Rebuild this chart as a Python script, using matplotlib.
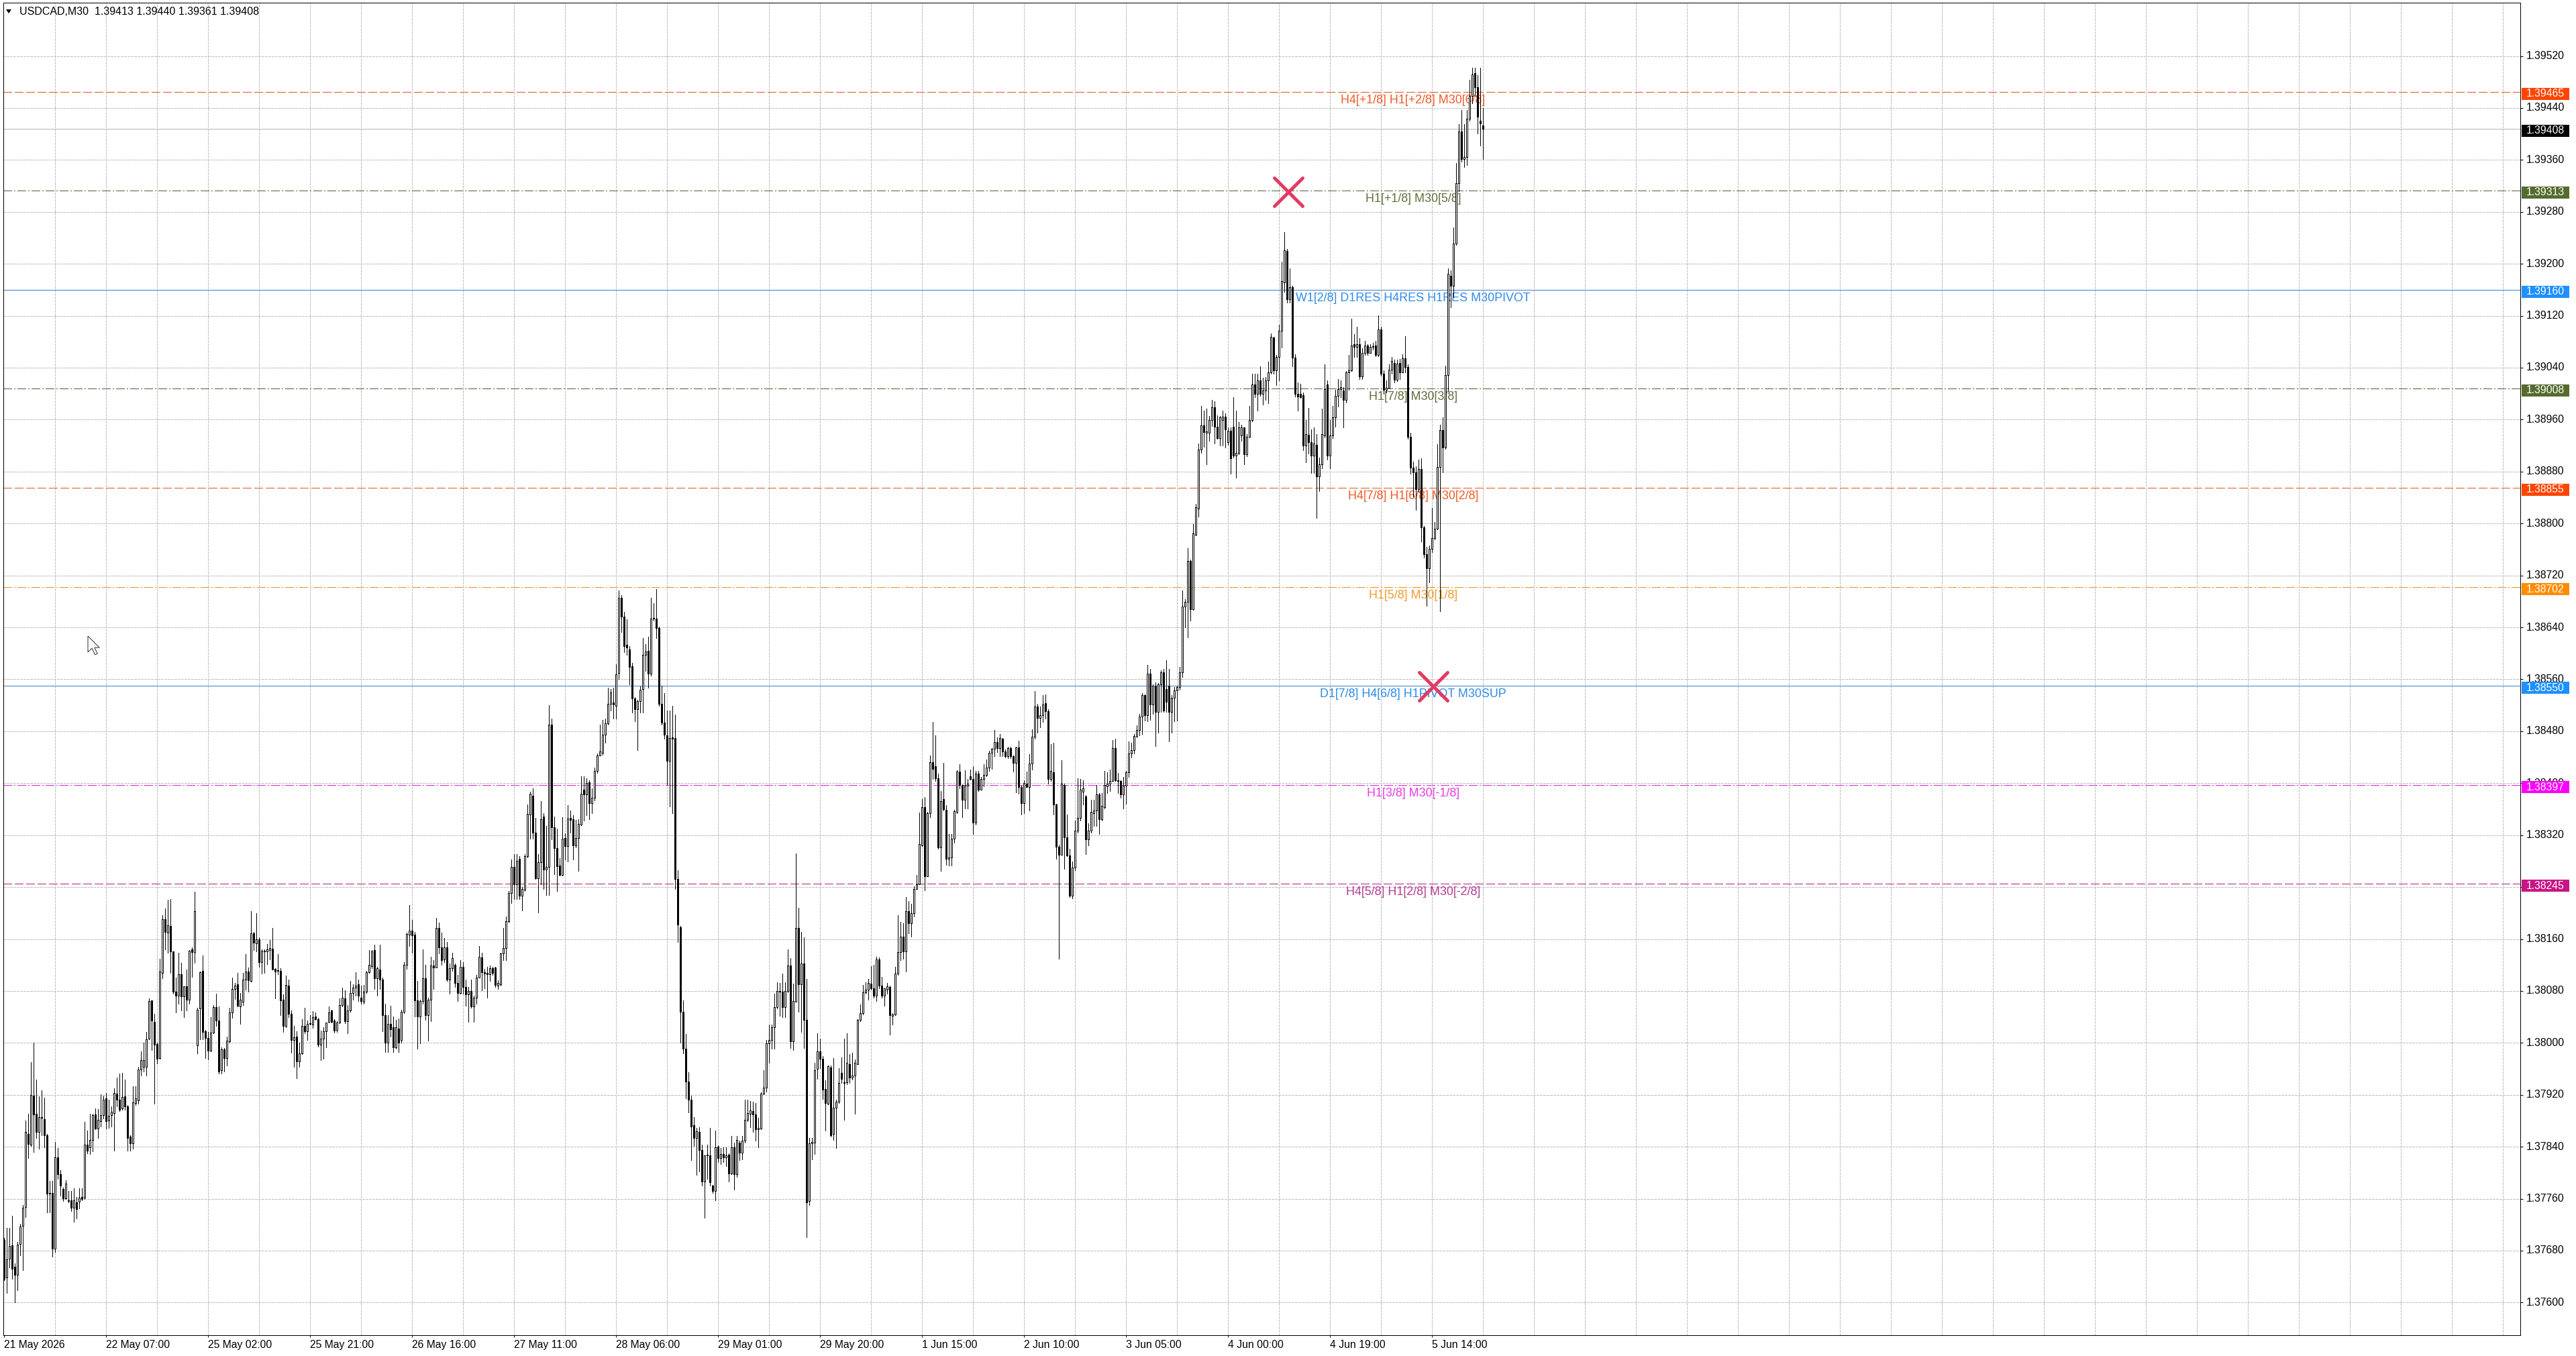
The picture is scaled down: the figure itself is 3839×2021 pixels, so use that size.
import matplotlib
matplotlib.use("Agg")
import matplotlib.pyplot as plt
import matplotlib.transforms as mtransforms
from matplotlib.patches import Rectangle, Polygon
from matplotlib.markers import MarkerStyle
import numpy as np

plt.rcParams['font.family'] = ['Liberation Sans', 'DejaVu Sans']

''' USDCAD M30 candles with Murrey-math style level lines,
read off a MetaTrader screenshot (21 May 2026 12:00 -> 5 Jun 2026 23:30) '''

symbol_text = "USDCAD,M30  1.39413 1.39440 1.39361 1.39408"

# prices are kept as points (0.00001) above 1.37600
BASE = 1.37600
POINT = 0.00001

open_pts = [
    97, 39, 68, 88, 55, 43, 90, 118, 147, 260,
    243, 319, 291, 263, 286, 283, 258, 168, 169, 83,
    224, 198, 175, 161, 158, 158, 146, 154, 155, 163,
    162, 243, 239, 250, 290, 268, 279, 289, 315, 280,
    289, 292, 322, 312, 299, 318, 302, 256, 245, 307,
    311, 359, 363, 363, 407, 465, 432, 398, 377, 508,
    590, 570, 580, 541, 479, 473, 506, 472, 487, 466,
    544, 540, 396, 453, 511, 418, 408, 388, 416, 455,
    434, 358, 390, 377, 402, 447, 483, 490, 456, 463,
    497, 510, 495, 569, 553, 559, 524, 542, 541, 543,
    545, 514, 512, 511, 466, 426, 488, 445, 405, 410,
    371, 384, 426, 418, 429, 428, 441, 437, 397, 407,
    418, 432, 450, 434, 420, 431, 458, 469, 433, 450,
    477, 485, 490, 470, 463, 479, 509, 518, 543, 500,
    513, 498, 443, 400, 429, 424, 393, 422, 405, 448,
    520, 567, 573, 567, 465, 441, 464, 500, 443, 467,
    519, 516, 577, 547, 528, 547, 498, 515, 520, 492,
    477, 517, 486, 475, 480, 456, 470, 501, 532, 509,
    508, 506, 515, 516, 488, 490, 538, 546, 587, 631,
    671, 644, 683, 627, 636, 688, 752, 781, 724, 654,
    678, 749, 667, 671, 890, 732, 700, 673, 659, 716,
    703, 747, 745, 704, 716, 736, 790, 783, 801, 769,
    778, 819, 843, 847, 875, 892, 922, 924, 919, 970,
    1086, 1057, 1013, 1006, 980, 930, 914, 926, 945, 998,
    1004, 969, 1053, 1053, 1039, 922, 893, 874, 834, 871,
    870, 653, 578, 448, 391, 340, 313, 273, 254, 263,
    235, 186, 227, 227, 180, 172, 240, 223, 229, 224,
    228, 199, 239, 198, 246, 231, 249, 281, 291, 295,
    290, 267, 268, 322, 331, 399, 405, 424, 455, 480,
    479, 455, 480, 519, 402, 463, 577, 490, 522, 436,
    156, 245, 246, 360, 387, 376, 329, 306, 362, 260,
    300, 309, 354, 338, 339, 367, 347, 350, 367, 435,
    446, 478, 482, 491, 484, 473, 529, 488, 473, 482,
    486, 442, 444, 507, 540, 564, 541, 603, 584, 600,
    637, 644, 704, 763, 657, 754, 832, 826, 808, 701,
    775, 759, 683, 686, 715, 756, 818, 797, 774, 796,
    811, 807, 739, 815, 790, 806, 813, 824, 847, 853,
    863, 854, 869, 849, 842, 854, 842, 831, 855, 794,
    769, 799, 794, 830, 872, 918, 901, 905, 923, 911,
    806, 817, 767, 702, 690, 797, 717, 689, 627, 670,
    727, 747, 787, 780, 713, 727, 754, 758, 783, 745,
    763, 795, 799, 803, 854, 804, 803, 783, 796, 817,
    846, 851, 873, 882, 903, 936, 905, 969, 921, 950,
    910, 952, 971, 945, 950, 910, 932, 943, 948, 971,
    1072, 1079, 1142, 1068, 1183, 1223, 1314, 1351, 1340, 1340,
    1359, 1379, 1349, 1331, 1359, 1365, 1325, 1343, 1349, 1305,
    1309, 1336, 1348, 1307, 1334, 1359, 1414, 1400, 1420, 1400,
    1405, 1420, 1433, 1486, 1436, 1456, 1497, 1571, 1620, 1545,
    1564, 1455, 1400, 1400, 1398, 1320, 1337, 1325, 1305, 1321,
    1273, 1291, 1336, 1414, 1305, 1336, 1363, 1397, 1407, 1405,
    1390, 1433, 1436, 1476, 1472, 1476, 1427, 1463, 1474, 1463,
    1472, 1474, 1460, 1499, 1431, 1406, 1409, 1437, 1447, 1421,
    1447, 1433, 1454, 1441, 1334, 1286, 1279, 1253, 1284, 1194,
    1153, 1131, 1161, 1177, 1192, 1287, 1344, 1317, 1429, 1582,
    1566, 1631, 1724, 1804, 1761, 1764, 1823, 1858, 1894, 1872,
    1820, 1813,
]

high_pts = [
    100, 115, 115, 134, 60, 93, 121, 150, 280, 291,
    370, 400, 344, 318, 327, 316, 260, 187, 187, 247,
    238, 204, 177, 189, 172, 172, 176, 163, 176, 176,
    278, 265, 291, 291, 299, 298, 321, 319, 323, 313,
    302, 330, 347, 353, 354, 344, 304, 258, 333, 333,
    363, 387, 400, 417, 469, 465, 445, 400, 530, 597,
    607, 620, 621, 541, 501, 539, 523, 487, 513, 543,
    547, 633, 454, 510, 535, 420, 417, 440, 458, 476,
    456, 393, 392, 410, 454, 501, 492, 508, 477, 508,
    537, 516, 603, 571, 600, 563, 544, 544, 552, 558,
    577, 515, 537, 515, 475, 504, 497, 450, 426, 418,
    400, 437, 454, 434, 443, 449, 447, 439, 419, 424,
    431, 456, 451, 437, 433, 469, 485, 481, 458, 495,
    490, 509, 498, 488, 489, 511, 543, 543, 551, 517,
    551, 501, 460, 443, 457, 441, 435, 438, 451, 524,
    570, 612, 589, 571, 495, 467, 544, 520, 470, 533,
    527, 593, 585, 570, 562, 555, 522, 539, 522, 505,
    527, 524, 498, 486, 498, 473, 505, 549, 539, 514,
    517, 519, 517, 517, 496, 539, 577, 595, 634, 682,
    691, 691, 688, 640, 691, 767, 787, 792, 747, 691,
    772, 754, 734, 920, 899, 749, 730, 685, 748, 723,
    766, 758, 751, 743, 745, 811, 811, 808, 804, 792,
    824, 846, 890, 897, 900, 947, 945, 947, 983, 1097,
    1090, 1064, 1052, 1011, 985, 933, 928, 949, 1023, 1014,
    1026, 1086, 1077, 1099, 1041, 950, 939, 912, 912, 919,
    906, 666, 580, 465, 414, 355, 319, 286, 269, 270,
    243, 227, 243, 269, 181, 265, 242, 238, 239, 239,
    230, 257, 246, 257, 249, 257, 313, 313, 310, 309,
    307, 285, 324, 358, 405, 428, 428, 476, 493, 492,
    507, 493, 544, 531, 491, 692, 608, 571, 563, 499,
    254, 254, 369, 415, 407, 380, 342, 365, 365, 377,
    312, 361, 378, 407, 415, 383, 385, 375, 437, 459,
    489, 493, 499, 518, 520, 533, 532, 502, 484, 492,
    488, 446, 517, 597, 586, 584, 625, 618, 614, 641,
    659, 755, 776, 779, 756, 843, 894, 874, 815, 788,
    831, 766, 722, 722, 759, 820, 829, 798, 820, 807,
    821, 826, 819, 819, 810, 829, 836, 850, 854, 882,
    871, 876, 870, 852, 856, 856, 843, 856, 865, 796,
    804, 818, 845, 883, 942, 922, 918, 936, 937, 914,
    860, 862, 768, 705, 835, 799, 752, 699, 679, 742,
    808, 806, 804, 782, 738, 774, 774, 797, 785, 785,
    819, 817, 821, 866, 869, 816, 804, 810, 819, 864,
    862, 876, 889, 907, 939, 937, 982, 976, 952, 955,
    954, 974, 976, 989, 976, 936, 948, 950, 979, 1097,
    1083, 1162, 1144, 1199, 1230, 1323, 1381, 1374, 1377, 1366,
    1390, 1388, 1367, 1366, 1374, 1370, 1348, 1348, 1395, 1374,
    1356, 1352, 1348, 1338, 1381, 1431, 1431, 1431, 1442, 1424,
    1426, 1449, 1493, 1488, 1460, 1506, 1603, 1649, 1623, 1593,
    1566, 1461, 1417, 1415, 1402, 1359, 1378, 1345, 1348, 1338,
    1302, 1377, 1445, 1420, 1359, 1381, 1406, 1422, 1420, 1410,
    1435, 1460, 1515, 1492, 1503, 1485, 1470, 1481, 1476, 1476,
    1478, 1481, 1521, 1503, 1436, 1420, 1445, 1456, 1452, 1452,
    1453, 1461, 1489, 1445, 1340, 1295, 1288, 1298, 1300, 1196,
    1164, 1166, 1224, 1202, 1322, 1352, 1363, 1443, 1593, 1590,
    1656, 1755, 1815, 1837, 1815, 1837, 1883, 1902, 1902, 1891,
    1902, 1840,
]

low_pts = [
    35, 15, 54, 37, 0, 19, 73, 50, 132, 223,
    241, 232, 254, 237, 258, 239, 139, 139, 71, 78,
    191, 165, 156, 160, 154, 141, 124, 130, 145, 158,
    160, 230, 229, 233, 267, 254, 271, 284, 268, 269,
    271, 234, 302, 295, 297, 297, 234, 234, 237, 304,
    306, 350, 356, 350, 406, 389, 306, 368, 376, 500,
    544, 539, 508, 476, 447, 460, 450, 440, 450, 460,
    502, 523, 384, 406, 406, 377, 375, 387, 415, 426,
    353, 353, 356, 365, 400, 439, 468, 456, 429, 458,
    482, 479, 494, 543, 541, 517, 507, 508, 521, 528,
    513, 469, 506, 443, 417, 424, 440, 385, 363, 346,
    363, 383, 415, 405, 428, 423, 436, 394, 373, 376,
    393, 431, 431, 416, 417, 430, 456, 430, 415, 448,
    466, 473, 464, 460, 460, 477, 508, 515, 483, 473,
    483, 418, 386, 386, 410, 386, 391, 386, 400, 446,
    514, 549, 539, 441, 391, 399, 460, 435, 403, 433,
    483, 516, 538, 520, 524, 495, 476, 511, 486, 464,
    476, 476, 457, 432, 454, 432, 460, 501, 481, 484,
    470, 495, 505, 486, 483, 488, 527, 527, 585, 615,
    622, 622, 622, 604, 634, 686, 715, 714, 653, 601,
    644, 637, 628, 628, 713, 660, 634, 658, 658, 682,
    679, 724, 682, 701, 665, 735, 742, 751, 745, 754,
    773, 816, 843, 844, 862, 890, 912, 900, 900, 960,
    1033, 1002, 998, 952, 909, 895, 851, 909, 909, 973,
    947, 966, 1050, 1023, 919, 890, 868, 797, 764, 754,
    637, 555, 400, 384, 315, 293, 220, 241, 197, 202,
    180, 131, 191, 180, 169, 158, 216, 213, 216, 210,
    186, 198, 174, 194, 219, 221, 246, 279, 270, 263,
    249, 239, 267, 321, 325, 369, 391, 391, 453, 442,
    440, 440, 478, 392, 389, 463, 448, 417, 392, 101,
    150, 221, 229, 345, 361, 314, 265, 305, 256, 251,
    238, 307, 338, 281, 336, 338, 344, 291, 367, 433,
    444, 476, 466, 482, 470, 464, 484, 470, 457, 476,
    413, 428, 443, 505, 527, 530, 510, 569, 564, 595,
    637, 644, 703, 635, 657, 748, 807, 803, 699, 665,
    758, 674, 673, 673, 708, 754, 792, 748, 761, 761,
    805, 722, 736, 788, 790, 795, 811, 819, 822, 842,
    848, 842, 842, 840, 839, 839, 818, 786, 784, 752,
    754, 794, 758, 821, 869, 878, 886, 894, 899, 799,
    803, 752, 684, 530, 690, 668, 688, 625, 623, 666,
    724, 742, 767, 691, 704, 724, 734, 734, 722, 742,
    761, 785, 788, 803, 803, 785, 778, 761, 768, 810,
    840, 846, 871, 874, 876, 896, 895, 897, 907, 857,
    878, 910, 910, 910, 864, 878, 895, 896, 944, 964,
    1040, 1025, 1050, 1067, 1182, 1211, 1309, 1318, 1291, 1327,
    1350, 1323, 1330, 1320, 1320, 1317, 1321, 1277, 1302, 1271,
    1307, 1327, 1291, 1304, 1333, 1357, 1395, 1374, 1397, 1383,
    1390, 1385, 1431, 1431, 1413, 1420, 1471, 1557, 1540, 1540,
    1442, 1396, 1374, 1393, 1313, 1294, 1308, 1278, 1278, 1208,
    1250, 1285, 1333, 1298, 1285, 1331, 1349, 1380, 1394, 1348,
    1386, 1406, 1435, 1456, 1456, 1422, 1422, 1460, 1460, 1463,
    1468, 1458, 1458, 1428, 1400, 1402, 1409, 1431, 1417, 1419,
    1422, 1433, 1433, 1330, 1277, 1242, 1221, 1249, 1172, 1148,
    1073, 1109, 1156, 1175, 1191, 1065, 1279, 1315, 1404, 1533,
    1549, 1629, 1712, 1757, 1749, 1752, 1820, 1847, 1858, 1801,
    1782, 1761,
]

close_pts = [
    37, 67, 87, 52, 43, 89, 117, 146, 263, 244,
    320, 290, 263, 286, 285, 258, 168, 169, 83, 224,
    198, 180, 161, 183, 156, 146, 158, 144, 162, 160,
    243, 234, 250, 289, 268, 282, 289, 313, 279, 288,
    294, 323, 312, 297, 317, 302, 254, 245, 308, 315,
    359, 374, 374, 406, 464, 434, 397, 376, 510, 590,
    571, 581, 541, 479, 473, 506, 472, 487, 467, 542,
    540, 603, 451, 509, 417, 408, 388, 416, 455, 434,
    356, 390, 377, 403, 447, 483, 488, 457, 466, 497,
    510, 496, 569, 554, 559, 524, 542, 541, 544, 546,
    513, 510, 511, 465, 426, 489, 445, 405, 409, 371,
    384, 426, 418, 429, 430, 440, 437, 397, 407, 418,
    431, 447, 432, 419, 431, 458, 470, 433, 450, 477,
    485, 488, 473, 464, 479, 509, 520, 541, 500, 515,
    498, 443, 400, 429, 421, 393, 424, 400, 448, 520,
    568, 573, 566, 465, 441, 464, 500, 443, 467, 519,
    516, 577, 547, 527, 547, 498, 515, 531, 492, 477,
    517, 486, 475, 480, 456, 470, 501, 533, 509, 507,
    506, 515, 508, 489, 492, 538, 546, 587, 631, 671,
    644, 680, 627, 637, 688, 753, 784, 724, 654, 678,
    744, 667, 671, 890, 732, 700, 672, 659, 715, 703,
    746, 743, 704, 716, 737, 784, 783, 800, 769, 778,
    819, 843, 849, 875, 892, 922, 940, 921, 968, 1086,
    1057, 1011, 1009, 979, 931, 914, 926, 944, 998, 1003,
    969, 1053, 1055, 1039, 922, 893, 875, 834, 870, 868,
    653, 582, 448, 391, 340, 313, 271, 254, 264, 235,
    186, 227, 228, 185, 172, 239, 223, 229, 224, 227,
    199, 239, 198, 251, 231, 249, 281, 292, 296, 290,
    267, 269, 322, 331, 399, 405, 424, 455, 480, 479,
    455, 480, 519, 402, 464, 577, 490, 522, 436, 154,
    245, 247, 358, 387, 376, 328, 307, 364, 258, 300,
    309, 338, 345, 339, 369, 347, 350, 369, 436, 446,
    478, 482, 492, 484, 473, 529, 488, 473, 484, 487,
    443, 444, 507, 540, 564, 541, 603, 584, 600, 637,
    644, 706, 763, 657, 754, 832, 822, 808, 701, 772,
    760, 683, 686, 714, 757, 818, 797, 774, 796, 799,
    807, 739, 815, 790, 806, 813, 824, 847, 853, 863,
    854, 870, 849, 842, 854, 842, 831, 855, 794, 769,
    800, 794, 830, 872, 918, 901, 905, 921, 911, 806,
    819, 767, 702, 690, 799, 717, 689, 627, 670, 727,
    747, 790, 792, 713, 727, 756, 758, 783, 744, 765,
    797, 799, 803, 854, 804, 803, 783, 796, 817, 846,
    851, 873, 882, 903, 936, 905, 969, 921, 950, 910,
    952, 971, 912, 925, 910, 932, 943, 948, 971, 1072,
    1079, 1142, 1068, 1185, 1225, 1314, 1351, 1341, 1342, 1359,
    1379, 1349, 1331, 1364, 1365, 1345, 1343, 1300, 1305, 1309,
    1348, 1348, 1307, 1334, 1359, 1414, 1400, 1420, 1400, 1405,
    1420, 1433, 1488, 1436, 1456, 1497, 1573, 1621, 1545, 1564,
    1455, 1400, 1396, 1395, 1320, 1338, 1325, 1305, 1323, 1273,
    1291, 1338, 1407, 1305, 1336, 1363, 1397, 1407, 1410, 1390,
    1433, 1436, 1474, 1472, 1476, 1427, 1463, 1474, 1463, 1472,
    1473, 1460, 1499, 1431, 1406, 1409, 1437, 1450, 1421, 1446,
    1433, 1454, 1441, 1334, 1286, 1279, 1253, 1284, 1194, 1153,
    1131, 1161, 1177, 1192, 1287, 1344, 1317, 1429, 1585, 1566,
    1631, 1724, 1804, 1761, 1764, 1823, 1858, 1892, 1872, 1826,
    1816, 1808,
]

# time scale, one label every 38 bars starting at the first bar
time_labels = ["21 May 2026", "22 May 07:00", "25 May 02:00", "25 May 21:00",
               "26 May 16:00", "27 May 11:00", "28 May 06:00", "29 May 01:00",
               "29 May 20:00", "1 Jun 15:00", "2 Jun 10:00", "3 Jun 05:00",
               "4 Jun 00:00", "4 Jun 19:00", "5 Jun 14:00"]
LABEL_STEP = 38

# price levels drawn on the chart
level_prices = [1.39465, 1.39313, 1.39160, 1.39008, 1.38855,
                1.38702, 1.38550, 1.38397, 1.38245]
level_names = ["H4[+1/8] H1[+2/8] M30[6/8]", "H1[+1/8] M30[5/8]",
               "W1[2/8] D1RES H4RES H1RES M30PIVOT", "H1[7/8] M30[3/8]",
               "H4[7/8] H1[6/8] M30[2/8]", "H1[5/8] M30[1/8]",
               "D1[7/8] H4[6/8] H1PIVOT M30SUP", "H1[3/8] M30[-1/8]",
               "H4[5/8] H1[2/8] M30[-2/8]"]
level_kinds = ["dash", "dashdot", "solid", "dashdot", "dash",
               "dashdot", "solid", "dashdot", "dash"]
level_box_colors = ["#FF4500", "#556B2F", "#1E90FF", "#556B2F", "#FF4500",
                    "#FF8C00", "#1E90FF", "#FF00FF", "#C71585"]
level_line_colors = ["#D9581E", "#55603A", "#3F7CC4", "#55603A", "#D9581E",
                     "#E8901E", "#3F7CC4", "#D820D8", "#B0207C"]
level_text_colors = ["#F05A28", "#5F6E3C", "#2F8BE6", "#5F6E3C", "#F05A28",
                     "#F39A2E", "#2F8BE6", "#E83CE8", "#B43C96"]
level_label_bar = 525.1

last_price = 1.39408

# the two cross marks
cross_bars = [478.6, 532.6]
cross_prices = [1.39311, 1.38549]

# ---- geometry of the screenshot (pixels) ----
W, H = 3839, 2021
PL, PT, PR, PB = 4.6, 4.0, 3756.0, 1990.0
BAR_PX = 4.0
BAR0_PX = 5.5
PX_PER_PRICE = 96766.0
REF_PRICE, REF_Y = 1.39520, 83.5
PX = 0.72  # one pixel in points at dpi 100


def price_at(y):
    return REF_PRICE - (y - REF_Y) / PX_PER_PRICE


def fig_xy(x, y):
    return x / W, 1 - y / H


fig = plt.figure(figsize=(W / 100, H / 100), dpi=100, facecolor='white')
ax = fig.add_axes([PL / W, 1 - PB / H, (PR - PL) / W, (PB - PT) / H])
ax.set_facecolor('white')

xmin = (PL - BAR0_PX) / BAR_PX
xmax = (PR - BAR0_PX) / BAR_PX
ymin, ymax = price_at(PB), price_at(PT)

# grid
price_ticks = np.round(np.arange(1.37600, 1.395201, 0.0008), 5)
for p in price_ticks:
    ax.axhline(p, color='#c0c0c0', lw=PX, linestyle=(0, (3, 2)), zorder=0.5,
               antialiased=False)
for gx in np.arange(19, xmax, 19):
    ax.axvline(gx, color='#c0c0c0', lw=PX, linestyle=(0, (3, 2)), zorder=0.5,
               antialiased=False)

# level lines + labels
dash_styles = {"dash": (0, (12, 5)), "dashdot": (0, (12, 4, 2, 4)), "solid": "-"}
for p, name, kind, lc, tc in zip(level_prices, level_names, level_kinds,
                                 level_line_colors, level_text_colors):
    ax.axhline(p, color=lc, lw=PX, linestyle=dash_styles[kind], zorder=1,
               antialiased=False)
    ax.text(level_label_bar, p - 4 / PX_PER_PRICE, name, color=tc,
            fontsize=12.9, ha='center', va='top', zorder=2)
ax.axhline(last_price, color='#b4b4b4', lw=PX, zorder=1, antialiased=False)

# candles
o = BASE + np.array(open_pts) * POINT
h = BASE + np.array(high_pts) * POINT
l = BASE + np.array(low_pts) * POINT
c = BASE + np.array(close_pts) * POINT
assert len(o) == len(h) == len(l) == len(c), (len(o), len(h), len(l), len(c))
h = np.maximum(h, np.maximum(o, c))
l = np.minimum(l, np.minimum(o, c))
idx = np.arange(len(o))
up = c >= o
body_lo = np.minimum(o, c)
body_h = np.abs(c - o)

ax.vlines(idx, l, h, color='black', lw=PX, zorder=3, antialiased=False)
ax.bar(idx[up], body_h[up], bottom=body_lo[up], width=0.5, facecolor='white',
       edgecolor='black', linewidth=PX, zorder=4, antialiased=False)
ax.bar(idx[~up], body_h[~up], bottom=body_lo[~up], width=0.5, facecolor='black',
       edgecolor='black', linewidth=PX, zorder=4, antialiased=False)

# cross marks
cross = MarkerStyle('x', capstyle='round')
ax.plot(cross_bars, cross_prices, linestyle='none', marker=cross,
        markersize=43 * PX, markeredgewidth=5 * PX, color='#e33a63', zorder=6)

ax.set_xlim(xmin, xmax)
ax.set_ylim(ymin, ymax)

# axes and ticks
for s in ax.spines.values():
    s.set_color('black')
    s.set_linewidth(PX)
ax.yaxis.tick_right()
ax.set_yticks(price_ticks)
ax.set_yticklabels([f"{p:.5f}" for p in price_ticks])
ax.tick_params(axis='y', length=4 * PX, width=PX, pad=5 * PX, labelsize=11.3,
               colors='black')
for t in ax.get_yticklabels():
    t.set_va('center')

ax.set_xticks(np.arange(len(time_labels)) * LABEL_STEP)
ax.set_xticklabels(time_labels)
ax.tick_params(axis='x', length=3 * PX, width=PX, pad=4 * PX, labelsize=11.3,
               colors='black')
for t in ax.get_xticklabels():
    t.set_ha('left')

# price tags on the right scale
tag_tf = mtransforms.blended_transform_factory(ax.transAxes, ax.transData)
tag_x0 = (3758 - PL) / (PR - PL)
tag_w = 71 / (PR - PL)
tag_h = 18 / PX_PER_PRICE
text_x = (3765 - PL) / (PR - PL)
tags = list(zip(level_prices, level_box_colors)) + [(last_price, 'black')]
for p, col in tags:
    yc = p - 3 / PX_PER_PRICE
    ax.add_patch(Rectangle((tag_x0, yc - tag_h / 2), tag_w, tag_h, transform=tag_tf,
                           facecolor=col, edgecolor='none', clip_on=False, zorder=10))
    ax.text(text_x, yc, f"{p:.5f}", transform=tag_tf, color='white', fontsize=11.3,
            ha='left', va='center', clip_on=False, zorder=11)
ax.set_xlim(xmin, xmax)
ax.set_ylim(ymin, ymax)

# symbol line top-left
fig.text(*fig_xy(29, 17), symbol_text, fontsize=11.5, ha='left', va='center')
tri = [fig_xy(9, 14), fig_xy(17, 14), fig_xy(13, 20)]
fig.patches.append(Polygon(tri, closed=True, transform=fig.transFigure,
                           facecolor='black', edgecolor='none'))

# mouse pointer left on the chart
arrow = np.array([(0, 0), (0, 16), (4, 12), (7, 18.5), (9.5, 17.5), (6.5, 11.5),
                  (11.5, 11.5)]) * 1.5
pointer = [fig_xy(131 + px_, 948 + py_) for px_, py_ in arrow]
fig.patches.append(Polygon(pointer, closed=True, transform=fig.transFigure,
                           facecolor='white', edgecolor='#333333', linewidth=PX))

fig.savefig("out.png", dpi=100, facecolor='white')
